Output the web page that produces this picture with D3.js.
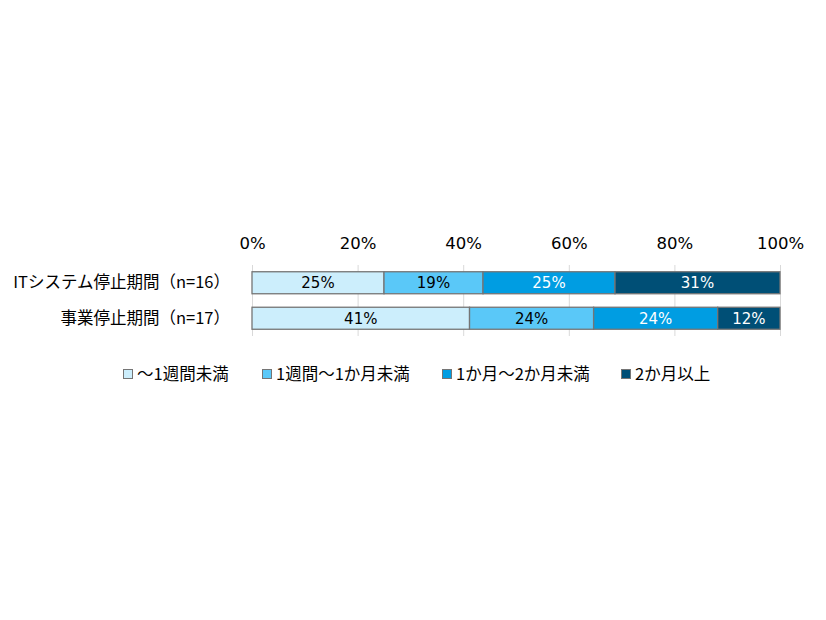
<!DOCTYPE html>
<html>
<head>
<meta charset="utf-8">
<script src="https://cdn.jsdelivr.net/npm/d3@7"></script>
<style>
  body { margin: 0; background: #fff; }
  text { font-family: "DejaVu Sans", "Noto Sans CJK JP", sans-serif; fill: #000; }
</style>
</head>
<body>
<div id="chart"></div>
<script>
// categories (top to bottom)
var categories = ["ITシステム停止期間（n=16）", "事業停止期間（n=17）"];
// series, in stacking order
var seriesNames = ["～1週間未満", "1週間～1か月未満", "1か月～2か月未満", "2か月以上"];
var seriesColors = ["#CCEEFC", "#5AC8F8", "#009DE2", "#004F76"];
var labelColors = ["#000", "#000", "#fff", "#fff"];
// percent values per category
var itValues = [25, 18.75, 25, 31.25];
var bizValues = [41.2, 23.5, 23.5, 11.8];
var valueLabels = [["25%", "19%", "25%", "31%"], ["41%", "24%", "24%", "12%"]];
var tickValues = [0, 20, 40, 60, 80, 100];

function init() {
    var w = 826;
    var h = 620;

    var svg = d3.select("#chart")
        .append("svg")
        .attr("width", w)
        .attr("height", h);

    var xScale = d3.scaleLinear()
        .domain([0, 100])
        .range([252, 780]);

    var yScale = d3.scaleBand()
        .domain(categories)
        .range([265, 336])
        .paddingInner(0.38)
        .paddingOuter(0.19);

    // build stacked rows
    var rows = [itValues, bizValues].map(function(vals, i) {
        var acc = 0;
        return vals.map(function(v, j) {
            var seg = { cat: categories[i], s: j, x0: acc, x1: acc + v, label: valueLabels[i][j] };
            acc += v;
            return seg;
        });
    });

    // gridlines
    svg.append("g")
        .selectAll("line")
        .data(tickValues)
        .enter()
        .append("line")
        .attr("x1", d => xScale(d) + 0.5)
        .attr("x2", d => xScale(d) + 0.5)
        .attr("y1", 265)
        .attr("y2", 336)
        .attr("stroke", "#d9d9d9")
        .attr("stroke-width", 1);

    // top axis labels
    var xAxis = d3.axisTop(xScale)
        .tickValues(tickValues)
        .tickFormat(d => d + "%")
        .tickSize(0)
        .tickPadding(0);

    var ax = svg.append("g")
        .attr("transform", "translate(0,249)")
        .call(xAxis);
    ax.select(".domain").remove();
    ax.selectAll("text")
        .attr("font-size", "16.5px")
        .style("font-family", '"DejaVu Sans", "Noto Sans CJK JP", sans-serif')
        .attr("fill", "#000");

    // category labels
    var yAxis = d3.axisLeft(yScale).tickSize(0).tickPadding(0);
    var ay = svg.append("g")
        .attr("transform", "translate(230,0)")
        .call(yAxis);
    ay.select(".domain").remove();
    ay.selectAll("text")
        .attr("font-size", "16.5px")
        .style("font-family", '"Noto Sans CJK JP", sans-serif')
        .attr("fill", "#000");

    // bars
    var groups = svg.selectAll(".row")
        .data(rows)
        .enter()
        .append("g")
        .attr("class", "row");

    groups.selectAll("rect")
        .data(d => d)
        .enter()
        .append("rect")
        .attr("x", d => xScale(d.x0))
        .attr("y", d => yScale(d.cat))
        .attr("width", d => xScale(d.x1) - xScale(d.x0))
        .attr("height", yScale.bandwidth())
        .attr("fill", d => seriesColors[d.s])
        .attr("stroke", "#757575")
        .attr("stroke-width", 1.3);

    groups.selectAll("text")
        .data(d => d)
        .enter()
        .append("text")
        .attr("x", d => (xScale(d.x0) + xScale(d.x1)) / 2)
        .attr("y", d => yScale(d.cat) + yScale.bandwidth() / 2)
        .attr("dy", "0.36em")
        .attr("text-anchor", "middle")
        .attr("font-size", "15px")
        .style("fill", d => labelColors[d.s])
        .text(d => d.label);

    // legend
    var legendX = [123, 262, 442, 621];
    var legend = svg.append("g")
        .selectAll("g")
        .data(seriesNames)
        .enter()
        .append("g")
        .attr("transform", (d, i) => "translate(" + legendX[i] + ",374)");

    legend.append("rect")
        .attr("x", 0.5)
        .attr("y", -4.5)
        .attr("width", 9)
        .attr("height", 9)
        .attr("fill", (d, i) => seriesColors[i])
        .attr("stroke", "#757575")
        .attr("stroke-width", 1);

    legend.append("text")
        .attr("x", 14)
        .attr("y", 0)
        .attr("dy", "0.36em")
        .attr("font-size", "16.5px")
        .style("font-family", '"Noto Sans CJK JP", sans-serif')
        .text(d => d);
}

window.onload = init;
</script>
</body>
</html>
